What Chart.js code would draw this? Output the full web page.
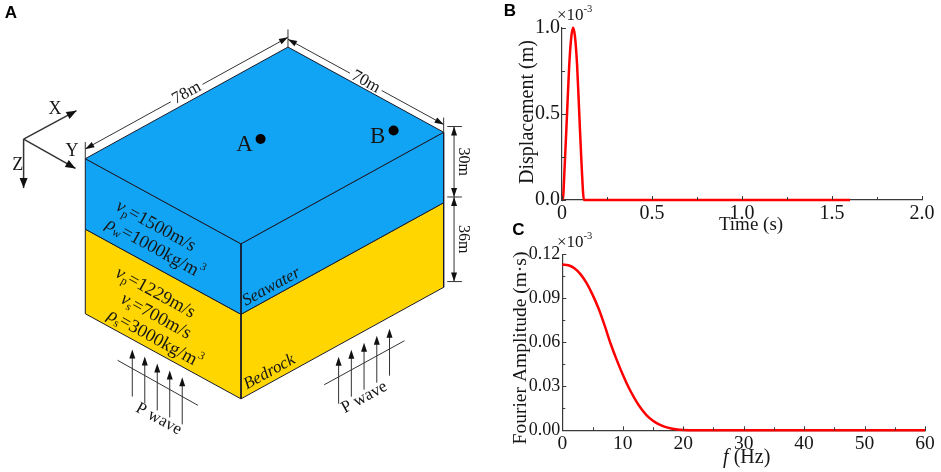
<!DOCTYPE html>
<html>
<head>
<meta charset="utf-8">
<script src="https://cdn.jsdelivr.net/npm/chart.js@4.4.1/dist/chart.umd.min.js"></script>
<style>
  html, body { margin: 0; padding: 0; background: #fff; }
  #wrap { position: relative; width: 941px; height: 472px; overflow: hidden; }
  .panel { position: absolute; }
  #boxA { left: 0; top: 0; width: 480px; height: 472px; }
  #boxB { left: 480px; top: 0; width: 461px; height: 240px; }
  #boxC { left: 480px; top: 215px; width: 461px; height: 257px; }
</style>
</head>
<body>
<div id="wrap">
  <div class="panel" id="boxA"><canvas id="chartA"></canvas></div>
  <div class="panel" id="boxB"><canvas id="chartB"></canvas></div>
  <div class="panel" id="boxC"><canvas id="chartC"></canvas></div>
</div>
<script>
// Panel A: model geometry (m)
const modelLength = 78;        // along X
const modelWidth = 70;         // along Y
const layerDepths = [30, 36];  // seawater, bedrock
const stationNames = ['A', 'B'];
const stationX = [40.5, 69];
const stationY = [31.5, 58];

// Panel B: input displacement, time (s) vs displacement (x10^-3 m)
const pulseTime = [0, 0.004, 0.015, 0.028, 0.04, 0.052, 0.062, 0.072, 0.084, 0.096, 0.109, 0.122, 0.13, 1.6];
const pulseDisp = [0, 0, 0.2, 0.5, 0.78, 0.95, 1.0, 0.95, 0.78, 0.5, 0.2, 0, 0, 0];
const timeTicks = [0, 0.5, 1.0, 1.5, 2.0];
const timeMinor = [0.25, 0.75, 1.25, 1.75];
const dispTicks = [0, 0.5, 1.0];
const dispMinor = [0.25, 0.75];

// Panel C: Fourier amplitude spectrum, f (Hz) vs amplitude (x10^-3 m*s)
const freqHz = [0, 1, 2, 3, 4, 5, 6, 7, 8, 9, 10, 11, 12, 13, 14, 15, 16, 17, 18, 19, 20, 22, 60];
const fourierAmp = [0.113, 0.1125, 0.1105, 0.1065, 0.1005, 0.0925, 0.083, 0.0715, 0.059, 0.048, 0.038, 0.029,
                    0.0215, 0.015, 0.01, 0.0065, 0.004, 0.0023, 0.0012, 0.0005, 0.0002, 0, 0];
const freqTicks = [0, 10, 20, 30, 40, 50, 60];
const freqMinor = [5, 15, 25, 35, 45, 55];
const ampTicks = [0, 0.03, 0.06, 0.09, 0.12];
const ampMinor = [0.015, 0.045, 0.075, 0.105];

const serif = '"Liberation Serif", "DejaVu Serif", serif';
const sans = '"Liberation Sans", Arial, sans-serif';
const blue = '#12a4f4';
const yellow = '#ffd600';
const ink = '#161616';

// draw a line of text made of styled pieces: '', 'i', 'b', 'sub', 'sup'
function drawRich(ctx, x, y, segs, opt) {
    const size = opt.size || 18;
    const family = opt.family || serif;
    ctx.save();
    ctx.translate(x, y);
    ctx.rotate((opt.rot || 0) * Math.PI / 180);
    ctx.textBaseline = 'middle';
    ctx.textAlign = 'left';
    const parts = segs.map(([t, k]) => {
        const small = k === 'sub' || k === 'sup';
        const fs = small ? size * 0.62 : size;
        const style = k === 'i' ? 'italic ' : (k === 'b' ? 'bold ' : (opt.italic ? 'italic ' : ''));
        ctx.font = style + fs + 'px ' + family;
        return { t, font: ctx.font, w: ctx.measureText(t).width,
                 dy: k === 'sub' ? size * 0.28 : (k === 'sup' ? -size * 0.38 : 0) };
    });
    const total = parts.reduce((s, p) => s + p.w, 0);
    let cx = opt.align === 'left' ? 0 : -total / 2;
    ctx.fillStyle = opt.color || ink;
    parts.forEach(p => { ctx.font = p.font; ctx.fillText(p.t, cx, p.dy); cx += p.w; });
    ctx.restore();
    return total;
}

// plain text annotations, positions in canvas pixels
const textPlugin = {
    id: 'texts',
    afterDraw(chart, args, opts) {
        (opts.items || []).forEach(it => drawRich(chart.ctx, it.x, it.y, it.segs, it));
    }
};

// short inward ticks like the original axes
const innerTicks = {
    id: 'innerTicks',
    afterDraw(chart, args, o) {
        const { ctx, chartArea: a, scales: { x, y } } = chart;
        ctx.save();
        ctx.strokeStyle = '#3a3a3a';
        ctx.lineWidth = 1;
        ctx.beginPath();
        const xt = (vals, len) => vals.forEach(v => {
            const p = Math.round(x.getPixelForValue(v)) + 0.5;
            ctx.moveTo(p, a.bottom); ctx.lineTo(p, a.bottom - len);
        });
        const yt = (vals, len) => vals.forEach(v => {
            const p = Math.round(y.getPixelForValue(v)) + 0.5;
            ctx.moveTo(a.left, p); ctx.lineTo(a.left + len, p);
        });
        xt(o.xMajor, 4); xt(o.xMinor, 3); yt(o.yMajor, 4); yt(o.yMinor, 3);
        ctx.stroke();
        ctx.restore();
    }
};

function makeScale(min, max, major, minor, fmt, size, extra) {
    return Object.assign({
        type: 'linear', min: min, max: max,
        grid: { display: false, drawTicks: false },
        border: { display: true, color: '#3a3a3a', width: 1.2 },
        afterBuildTicks: s => {
            s.ticks = major.concat(minor).sort((a, b) => a - b).map(v => ({ value: v }));
        },
        ticks: {
            autoSkip: false, maxRotation: 0, padding: 2, color: ink,
            font: { family: serif, size: size },
            callback: v => major.some(m => Math.abs(m - v) < 1e-9) ? fmt(v) : ''
        }
    }, extra);
}

// ---------- Panel A: 3D model sketch ----------
const origin = [82, 157];
const ex = [207 / 78, -114 / 78];
const ey = [159 / 70, 87 / 70];
const ez = 2.4;
function proj(mx, my, mz) {
    return [origin[0] + mx * ex[0] + my * ey[0], origin[1] + mx * ex[1] + my * ey[1] + mz * ez];
}
function face(pts) {
    return pts.concat([pts[0]]).map(p => { const q = proj(p[0], p[1], p[2]); return { x: q[0], y: q[1] }; });
}
const L = modelLength, W = modelWidth, z1 = layerDepths[0], z2 = layerDepths[0] + layerDepths[1];
const faceStyle = (pts, color) => ({
    data: face(pts), backgroundColor: color, borderColor: '#1a1a2a', borderWidth: 1,
    fill: 'shape', pointRadius: 0, tension: 0
});

function arrowHead(ctx, tip, from, len, half) {
    const dx = tip[0] - from[0], dy = tip[1] - from[1];
    const d = Math.hypot(dx, dy), ux = dx / d, uy = dy / d;
    ctx.beginPath();
    ctx.moveTo(tip[0], tip[1]);
    ctx.lineTo(tip[0] - ux * len - uy * half, tip[1] - uy * len + ux * half);
    ctx.lineTo(tip[0] - ux * len + uy * half, tip[1] - uy * len - ux * half);
    ctx.closePath();
    ctx.fill();
}
function seg(ctx, a, b) {
    ctx.beginPath(); ctx.moveTo(a[0], a[1]); ctx.lineTo(b[0], b[1]); ctx.stroke();
}

const diagram = {
    id: 'diagram',
    afterDatasetsDraw(chart) {
        const { ctx, scales: { x, y } } = chart;
        const P = p => [x.getPixelForValue(p[0]), y.getPixelForValue(p[1])];
        const shift = (p, dx, dy) => [p[0] + dx, p[1] + dy];
        ctx.save();
        ctx.strokeStyle = '#333';
        ctx.fillStyle = '#111';
        ctx.lineWidth = 1;

        // horizontal dimensions (78m, 70m), line broken around the label
        const left = proj(0, 0, 0), top = proj(L, 0, 0), right = proj(L, W, 0);
        [[left, top, -10, L + 'm'], [top, right, -8, W + 'm']].forEach(([a0, b0, off, lab]) => {
            const a = P(shift(a0, 0, off)), b = P(shift(b0, 0, off));
            const mx = (a[0] + b[0]) / 2, my = (a[1] + b[1]) / 2;
            const ang = Math.atan2(b[1] - a[1], b[0] - a[0]);
            ctx.font = '17px ' + serif;
            const half = ctx.measureText(lab).width / 2 + 3;
            const ux = Math.cos(ang), uy = Math.sin(ang);
            seg(ctx, a, [mx - ux * half, my - uy * half]);
            seg(ctx, [mx + ux * half, my + uy * half], b);
            arrowHead(ctx, a, b, 9, 3);
            arrowHead(ctx, b, a, 9, 3);
            drawRich(ctx, mx, my, [[lab, '']], { size: 17, rot: ang * 180 / Math.PI });
        });
        seg(ctx, P(shift(left, 0, -17)), P(left));
        seg(ctx, P(shift(top, 0, -18)), P(top));
        seg(ctx, P(shift(right, 0, -15)), P(right));

        // vertical dimensions (30m, 36m)
        const d0 = proj(L + 4, W, 0), d1 = proj(L + 4, W, z1), d2 = proj(L + 4, W, z2);
        [[d0, d1, z1], [d1, d2, layerDepths[1]]].forEach(([a0, b0, val]) => {
            const a = P(a0), b = P(b0);
            seg(ctx, a, b);
            arrowHead(ctx, a, b, 9, 3);
            arrowHead(ctx, b, a, 9, 3);
            drawRich(ctx, a[0] + 9, (a[1] + b[1]) / 2, [[val + 'm', '']], { size: 16, rot: 90 });
        });
        [d0, d1, d2].forEach(d => seg(ctx, P(shift(d, -7, 0)), P(shift(d, 8, 0))));

        // coordinate icon
        const o = [19, 137];
        [[[73, 108], 'X', [51, 107]], [[72, 167], 'Y', [68.5, 149]], [[19, 187], 'Z', [13, 164]]].forEach(([tip, lab, lp]) => {
            ctx.lineWidth = 1.5;
            seg(ctx, P(o), P(tip));
            arrowHead(ctx, P(tip), P(o), 10, 4);
            drawRich(ctx, P(lp)[0], P(lp)[1], [[lab, '']], { size: 18 });
        });
        ctx.lineWidth = 1;

        // station labels
        stationNames.forEach((n, i) => {
            const s = P(proj(stationX[i], stationY[i], 0));
            drawRich(ctx, s[0] - 16, s[1] + 6, [[n, '']], { size: 23 });
        });

        // layer properties on the left face
        const rotL = 28.7, rotR = -28.8;
        [
            [154, 226, [['v', 'i'], ['p', 'sub'], ['=1500m/s', '']]],
            [153, 249, [['ρ', 'i'], ['w', 'sub'], ['=1000kg/m', ''], ['3', 'sup']]],
            [153.5, 294, [['v', 'i'], ['p', 'sub'], ['=1229m/s', '']]],
            [154, 318, [['v', 'i'], ['s', 'sub'], ['=700m/s', '']]],
            [153, 341, [['ρ', 'i'], ['s', 'sub'], ['=3000kg/m', ''], ['3', 'sup']]]
        ].forEach(([tx, ty, segs]) => {
            const p = P([tx, ty]);
            drawRich(ctx, p[0], p[1], segs, { size: 18.5, rot: rotL });
        });
        drawRich(ctx, P([272, 288])[0], P([272, 288])[1], [['Seawater', '']], { size: 17, rot: rotR, italic: true });
        drawRich(ctx, P([270, 375])[0], P([270, 375])[1], [['Bedrock', '']], { size: 17, rot: rotR, italic: true });

        // incident P waves
        [
            { x0: 130, t0: 352, dx: 12.75, dy: 7.1, cross: [[115, 363], [197, 409]], lab: [157, 423], rot: rotL },
            { x0: 340.7, t0: 359.3, dx: 13, dy: -7.15, cross: [[326, 388], [408, 343]], lab: [367, 401], rot: rotR }
        ].forEach(g => {
            for (let k = 0; k < 5; k++) {
                const tx = g.x0 + k * g.dx, ty = g.t0 + k * g.dy;
                seg(ctx, P([tx, ty + 48]), P([tx, ty + 6]));
                arrowHead(ctx, P([tx, ty]), P([tx, ty + 48]), 9, 3);
            }
            seg(ctx, P(g.cross[0]), P(g.cross[1]));
            drawRich(ctx, P(g.lab)[0], P(g.lab)[1], [['P wave', '']], { size: 17, rot: g.rot });
        });
        ctx.restore();
    },
    afterDraw(chart) {
        drawRich(chart.ctx, 11, 13, [['A', 'b']], { size: 17, family: sans, color: '#000' });
    }
};

new Chart(document.getElementById('chartA'), {
    type: 'line',
    data: {
        datasets: [
            {
                data: stationX.map((sx, i) => { const q = proj(sx, stationY[i], 0); return { x: q[0], y: q[1] }; }),
                showLine: false, pointRadius: 5, pointBackgroundColor: '#000', pointBorderWidth: 0
            },
            faceStyle([[0, 0, 0], [L, 0, 0], [L, W, 0], [0, W, 0]], blue),
            faceStyle([[0, 0, 0], [0, W, 0], [0, W, z1], [0, 0, z1]], blue),
            faceStyle([[0, 0, z1], [0, W, z1], [0, W, z2], [0, 0, z2]], yellow),
            faceStyle([[0, W, 0], [L, W, 0], [L, W, z1], [0, W, z1]], blue),
            faceStyle([[0, W, z1], [L, W, z1], [L, W, z2], [0, W, z2]], yellow)
        ]
    },
    options: {
        animation: false, responsive: true, maintainAspectRatio: false, events: [],
        layout: { padding: 0 },
        scales: {
            x: { type: 'linear', min: 0, max: 480, display: false },
            y: { type: 'linear', min: 0, max: 472, reverse: true, display: false }
        },
        plugins: { legend: { display: false }, tooltip: { enabled: false } }
    },
    plugins: [diagram]
});

// ---------- Panel B: displacement time history ----------
new Chart(document.getElementById('chartB'), {
    type: 'line',
    data: {
        datasets: [{
            data: pulseTime.map((t, i) => ({ x: t, y: pulseDisp[i] })),
            borderColor: '#ff0000', borderWidth: 2.5, pointRadius: 0,
            cubicInterpolationMode: 'monotone', fill: false, clip: 5
        }]
    },
    options: {
        animation: false, responsive: true, maintainAspectRatio: false, events: [],
        layout: { padding: { top: 27.7, right: 19, bottom: 0, left: 0 } },
        scales: {
            x: makeScale(0, 2, timeTicks, timeMinor, v => v === 0 ? '0' : v.toFixed(1), 20,
                { afterFit: s => { s.height = 40; } }),
            y: makeScale(0, 1, dispTicks, dispMinor, v => v.toFixed(1), 20,
                { afterFit: s => { s.width = 82; } })
        },
        plugins: {
            legend: { display: false }, tooltip: { enabled: false },
            innerTicks: { xMajor: timeTicks, xMinor: timeMinor, yMajor: dispTicks, yMinor: dispMinor },
            texts: {
                items: [
                    { x: 30, y: 11, segs: [['B', 'b']], size: 17, family: sans, color: '#000' },
                    { x: 77, y: 16, segs: [['×10', ''], ['-3', 'sup']], size: 17, align: 'left' },
                    { x: 48, y: 112, segs: [['Displacement (m)', '']], size: 20, rot: -90 },
                    { x: 271, y: 225, segs: [['Time (s)', '']], size: 19 }
                ]
            }
        }
    },
    plugins: [innerTicks, textPlugin]
});

// ---------- Panel C: Fourier amplitude ----------
new Chart(document.getElementById('chartC'), {
    type: 'line',
    data: {
        datasets: [{
            data: freqHz.map((f, i) => ({ x: f, y: fourierAmp[i] })),
            borderColor: '#ff0000', borderWidth: 2.5, pointRadius: 0,
            cubicInterpolationMode: 'monotone', fill: false, clip: 5
        }]
    },
    options: {
        animation: false, responsive: true, maintainAspectRatio: false, events: [],
        layout: { padding: { top: 39.3, right: 16, bottom: 0, left: 0 } },
        scales: {
            x: makeScale(0, 60, freqTicks, freqMinor, v => String(v), 19.5,
                { afterFit: s => { s.height = 41.7; } }),
            y: makeScale(0, 0.12, ampTicks, ampMinor, v => v.toFixed(2), 18,
                { afterFit: s => { s.width = 82.3; } })
        },
        plugins: {
            legend: { display: false }, tooltip: { enabled: false },
            innerTicks: { xMajor: freqTicks, xMinor: freqMinor, yMajor: ampTicks, yMinor: ampMinor },
            texts: {
                items: [
                    { x: 38.5, y: 15, segs: [['C', 'b']], size: 17, family: sans, color: '#000' },
                    { x: 77, y: 28, segs: [['×10', ''], ['-3', 'sup']], size: 17, align: 'left' },
                    { x: 41, y: 133, segs: [['Fourier Amplitude (m·s)', '']], size: 19.5, rot: -90 },
                    { x: 266.7, y: 243, segs: [['f', 'i'], [' (Hz)', '']], size: 20 }
                ]
            }
        }
    },
    plugins: [innerTicks, textPlugin]
});
</script>
</body>
</html>
